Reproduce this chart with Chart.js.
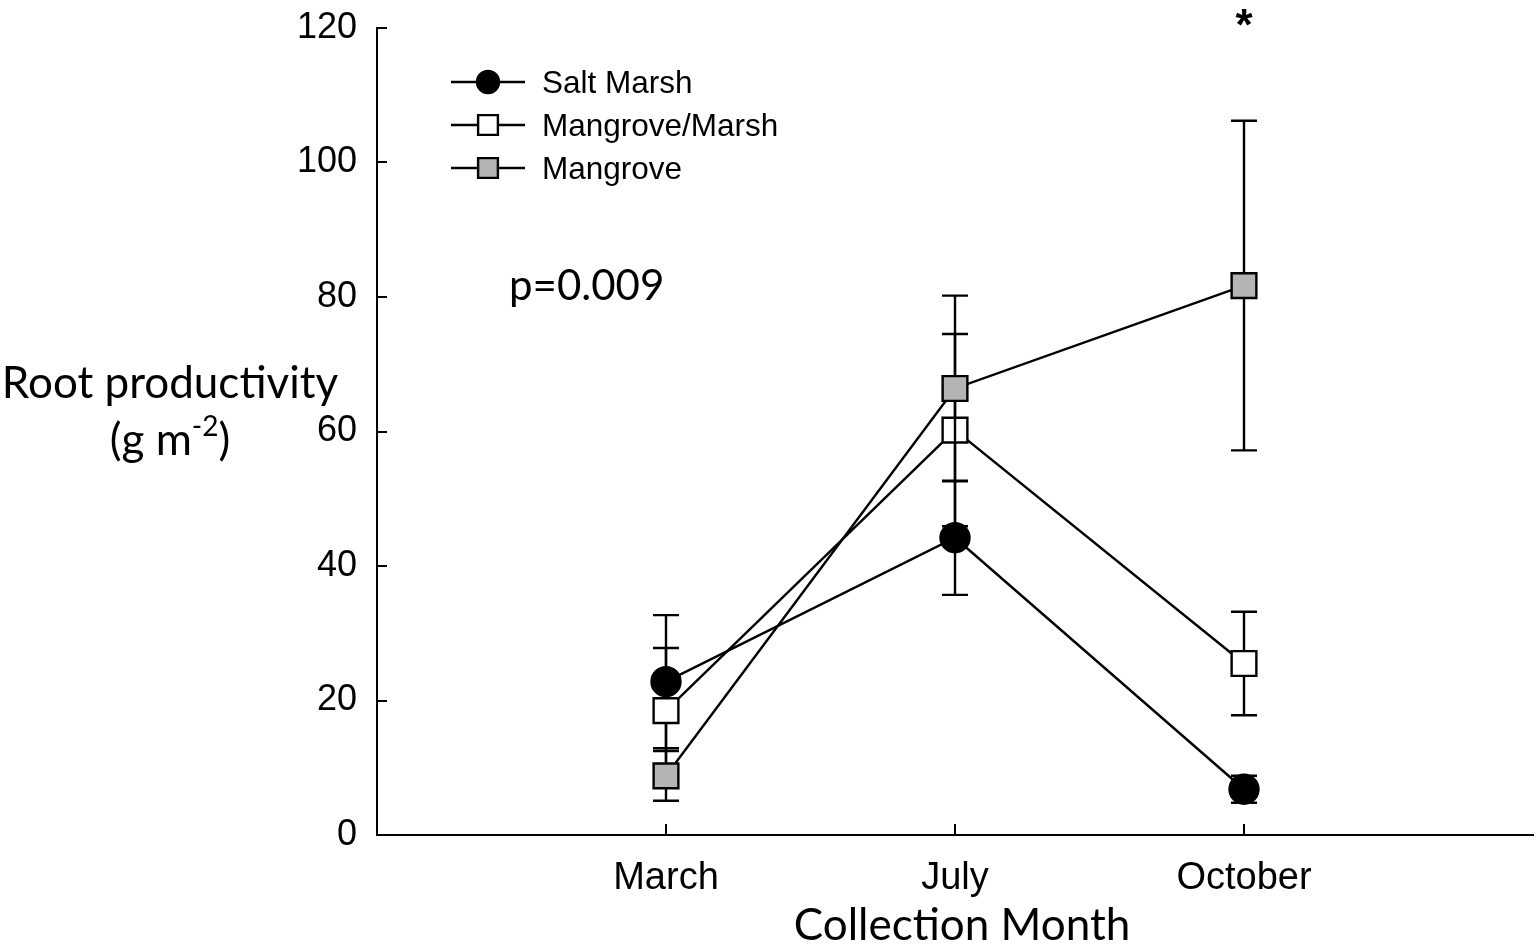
<!DOCTYPE html>
<html>
<head>
<meta charset="utf-8">
<title>Root productivity by collection month</title>
<script src="https://cdn.jsdelivr.net/npm/chart.js@4.4.1/dist/chart.umd.min.js"></script>
<style>
  html, body { margin: 0; padding: 0; background: #ffffff; }
  #wrap { width: 1537px; height: 952px; }
</style>
</head>
<body>
<div id="wrap"><canvas id="chart" width="1537" height="952"></canvas></div>
<script>
// Collection months (x categories)
const months = ['March', 'July', 'October'];

// Mean root productivity (g m-2) and standard errors per habitat
const saltMarsh = [22.8, 44.2, 6.8];
const saltMarshErr = [9.9, 8.5, 2.0];

const mangroveMarsh = [18.5, 60.2, 25.5];
const mangroveMarshErr = [9.3, 14.3, 7.7];

const mangrove = [8.8, 66.4, 81.7];
const mangroveErr = [3.7, 13.8, 24.5];

// Y axis ticks
const yTicks = [0, 20, 40, 60, 80, 100, 120];

// Annotations
const pValueText = 'p=0.009';
const significanceMark = '*';
const significantMonth = 'October';

const TICK_FONT = '"Liberation Sans", Arial, sans-serif';
const TITLE_FONT = 'Lato, "Open Sans", sans-serif';
const LINE_W = 2.4;

function toPoints(values) {
  return values.map((v, i) => ({ x: i + 1, y: v }));
}

const seriesDefs = [
  { label: 'Salt Marsh', data: saltMarsh, err: saltMarshErr, style: 'circle', fill: '#000000', radius: 14.5, legendRadius: 11 },
  { label: 'Mangrove/Marsh', data: mangroveMarsh, err: mangroveMarshErr, style: 'rect', fill: '#ffffff', radius: 17.5, legendRadius: 14 },
  { label: 'Mangrove', data: mangrove, err: mangroveErr, style: 'rect', fill: '#b4b4b4', radius: 17.5, legendRadius: 14 }
];

const datasets = seriesDefs.map((s, i) => ({
  label: s.label,
  data: toPoints(s.data),
  errors: s.err,
  borderColor: '#000000',
  borderWidth: LINE_W,
  pointStyle: s.style,
  pointRadius: s.radius,
  pointBackgroundColor: s.fill,
  pointBorderColor: '#000000',
  pointBorderWidth: LINE_W,
  pointHoverRadius: s.radius,
  fill: false,
  tension: 0,
  clip: false,
  // first series is painted first, last series ends up on top
  order: seriesDefs.length - i,
  legendRadius: s.legendRadius
}));

function drawMarker(ctx, style, x, y, radius, fill) {
  ctx.save();
  ctx.beginPath();
  if (style === 'circle') {
    ctx.arc(x, y, radius, 0, Math.PI * 2);
  } else {
    const h = Math.SQRT1_2 * radius;
    ctx.rect(x - h, y - h, 2 * h, 2 * h);
  }
  ctx.fillStyle = fill;
  ctx.fill();
  ctx.lineWidth = LINE_W;
  ctx.strokeStyle = '#000000';
  ctx.stroke();
  ctx.restore();
}

// Vertical error bars with caps, drawn just before each series
const errorBars = {
  id: 'errorBars',
  beforeDatasetDraw(chart, args) {
    const ds = chart.data.datasets[args.index];
    const xs = chart.scales.x, ys = chart.scales.y;
    const ctx = chart.ctx;
    ctx.save();
    ctx.strokeStyle = '#000000';
    ctx.lineWidth = LINE_W;
    ds.data.forEach((p, i) => {
      const e = ds.errors[i];
      const x = xs.getPixelForValue(p.x);
      const top = ys.getPixelForValue(p.y + e);
      const bot = ys.getPixelForValue(p.y - e);
      ctx.beginPath();
      ctx.moveTo(x, top); ctx.lineTo(x, bot);
      ctx.moveTo(x - 13, top); ctx.lineTo(x + 13, top);
      ctx.moveTo(x - 13, bot); ctx.lineTo(x + 13, bot);
      ctx.stroke();
    });
    ctx.restore();
  }
};

// Inward tick marks, legend, axis titles and annotations
const decorations = {
  id: 'decorations',
  afterDraw(chart) {
    const ctx = chart.ctx;
    const xs = chart.scales.x, ys = chart.scales.y;
    const area = chart.chartArea;
    ctx.save();

    // inward tick marks
    ctx.strokeStyle = '#000000';
    ctx.lineWidth = 2;
    ctx.beginPath();
    yTicks.forEach(v => {
      const y = Math.round(ys.getPixelForValue(v));
      ctx.moveTo(area.left, y);
      ctx.lineTo(area.left + 10, y);
    });
    months.forEach((m, i) => {
      const x = Math.round(xs.getPixelForValue(i + 1));
      ctx.moveTo(x, area.bottom);
      ctx.lineTo(x, area.bottom - 11);
    });
    ctx.stroke();

    // legend
    const legendLeft = 451, legendRight = 525, legendMarkX = 488, legendTextX = 542;
    const rowY = [82, 125, 168];
    ctx.font = '31.5px ' + TICK_FONT;
    ctx.textAlign = 'left';
    ctx.textBaseline = 'alphabetic';
    chart.data.datasets.forEach((ds, i) => {
      const y = rowY[i];
      ctx.beginPath();
      ctx.moveTo(legendLeft, y);
      ctx.lineTo(legendRight, y);
      ctx.lineWidth = LINE_W;
      ctx.strokeStyle = '#000000';
      ctx.stroke();
      drawMarker(ctx, ds.pointStyle, legendMarkX, y, ds.legendRadius, ds.pointBackgroundColor);
      ctx.fillStyle = '#000000';
      ctx.fillText(ds.label, legendTextX, y + 11);
    });

    // y axis title (two lines, with superscript)
    ctx.fillStyle = '#000000';
    ctx.font = '44px ' + TITLE_FONT;
    ctx.textAlign = 'center';
    ctx.fillText('Root productivity', 170, 398);
    const base = '(g m';
    const sup = '-2';
    const tail = ')';
    const fBig = '44px ' + TITLE_FONT, fSup = '28px ' + TITLE_FONT;
    ctx.font = fBig; const wBase = ctx.measureText(base).width; const wTail = ctx.measureText(tail).width;
    ctx.font = fSup; const wSup = ctx.measureText(sup).width;
    const x0 = 170 - (wBase + wSup + wTail) / 2;
    ctx.textAlign = 'left';
    ctx.font = fBig; ctx.fillText(base, x0, 455);
    ctx.font = fSup; ctx.fillText(sup, x0 + wBase, 436);
    ctx.font = fBig; ctx.fillText(tail, x0 + wBase + wSup, 455);

    // x axis title
    ctx.textAlign = 'center';
    ctx.font = '44px ' + TITLE_FONT;
    ctx.fillText('Collection Month', 962, 940);

    // p-value
    ctx.textAlign = 'left';
    ctx.font = '42px ' + TITLE_FONT;
    ctx.fillText(pValueText, 509, 300);

    // significance mark above the October group
    const sx = xs.getPixelForValue(months.indexOf(significantMonth) + 1);
    ctx.textAlign = 'center';
    ctx.font = 'bold 44px ' + TICK_FONT;
    ctx.fillText(significanceMark, sx, 40);

    ctx.restore();
  }
};

new Chart(document.getElementById('chart'), {
  type: 'line',
  data: { datasets },
  options: {
    responsive: false,
    animation: false,
    events: [],
    layout: { autoPadding: false, padding: { left: 0, top: 28, right: 4, bottom: 0 } },
    plugins: {
      legend: { display: false },
      tooltip: { enabled: false },
      title: { display: false }
    },
    scales: {
      x: {
        type: 'linear',
        min: 0,
        max: months.length + 1,
        afterBuildTicks(scale) {
          scale.ticks = months.map((m, i) => ({ value: i + 1 }));
        },
        afterFit(scale) {
          scale.height = 117;
          scale.paddingLeft = 0;
          scale.paddingRight = 0;
        },
        ticks: {
          callback: (v) => months[v - 1] || '',
          color: '#000000',
          font: { family: TICK_FONT, size: 38 },
          padding: 21,
          maxRotation: 0,
          autoSkip: false
        },
        grid: { display: false, drawTicks: false },
        border: { display: true, color: '#000000', width: 2 }
      },
      y: {
        type: 'linear',
        min: 0,
        max: 120,
        afterBuildTicks(scale) {
          scale.ticks = yTicks.map(v => ({ value: v }));
        },
        afterFit(scale) {
          scale.width = 377;
          scale.paddingTop = 0;
          scale.paddingBottom = 0;
        },
        ticks: {
          color: '#000000',
          font: { family: TICK_FONT, size: 36 },
          padding: 20
        },
        grid: { display: false, drawTicks: false },
        border: { display: true, color: '#000000', width: 2 }
      }
    }
  },
  plugins: [errorBars, decorations]
});
</script>
</body>
</html>
